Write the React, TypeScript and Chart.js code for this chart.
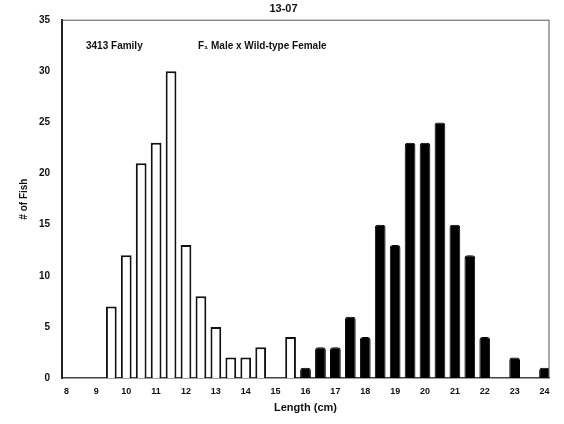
import React, { useEffect, useRef } from "react";
import { Chart, registerables } from "chart.js";

Chart.register(...registerables);

const chartTitle = "13-07";
const familyLabel = "3413 Family";
const crossLabel = "F\u2081 Male x Wild-type Female";
const xAxisTitle = "Length (cm)";
const yAxisTitle = "# of Fish";

const xTickValues = [8, 9, 10, 11, 12, 13, 14, 15, 16, 17, 18, 19, 20, 21, 22, 23, 24];
const yTickValues = [0, 5, 10, 15, 20, 25, 30, 35];

const openBins = [9.5, 10, 10.5, 11, 11.5, 12, 12.5, 13, 13.5, 14, 14.5, 15.5];
const openCounts = [7, 12, 21, 23, 30, 13, 8, 5, 2, 2, 3, 4];

const filledBins = [16, 16.5, 17, 17.5, 18, 18.5, 19, 19.5, 20, 20.5, 21, 21.5, 22, 23, 24];
const filledCounts = [1, 3, 3, 6, 4, 15, 13, 23, 23, 25, 15, 12, 4, 2, 1];

const FONT = "'Liberation Sans', Arial, sans-serif";

const framePlugin = {
  id: "frameAndNotes",
  afterDraw(chart: any) {
    const { ctx, chartArea } = chart;
    ctx.save();
    ctx.strokeStyle = "#555";
    ctx.lineWidth = 1;
    ctx.beginPath();
    ctx.moveTo(chartArea.left, chartArea.top);
    ctx.lineTo(chartArea.right, chartArea.top);
    ctx.lineTo(chartArea.right, chartArea.bottom);
    ctx.stroke();
    ctx.fillStyle = "#111";
    ctx.font = `bold 10px ${FONT}`;
    ctx.textBaseline = "middle";
    ctx.textAlign = "left";
    ctx.fillText(familyLabel, chartArea.left + 24, chartArea.top + 26);
    ctx.fillText(crossLabel, chartArea.left + 136, chartArea.top + 26);
    ctx.restore();
  },
};

export default function App() {
  const ref = useRef<HTMLCanvasElement | null>(null);

  useEffect(() => {
    if (!ref.current) return;
    const chart = new Chart(ref.current, {
      type: "bar",
      data: {
        datasets: [
          {
            label: "open",
            data: openBins.map((b, i) => ({ x: b, y: openCounts[i] })),
            backgroundColor: "#ffffff",
            borderColor: "#111111",
            borderWidth: 2,
          },
          {
            label: "filled",
            data: filledBins.map((b, i) => ({ x: b, y: filledCounts[i] })),
            backgroundColor: "#000000",
            borderColor: "#000000",
            borderWidth: 1,
            borderRadius: { topLeft: 3, topRight: 3 },
            borderSkipped: "bottom",
          },
        ],
      },
      plugins: [framePlugin],
      options: {
        animation: false,
        responsive: false,
        grouped: false,
        barPercentage: 0.72,
        categoryPercentage: 1,
        layout: { padding: { top: 0, right: 15, left: 18, bottom: 9 } },
        plugins: {
          legend: { display: false },
          tooltip: { enabled: false },
          title: {
            display: true,
            text: chartTitle,
            color: "#111",
            font: { family: FONT, size: 11, weight: "bold" },
            padding: { top: 2, bottom: 5 },
          },
        },
        scales: {
          x: {
            type: "linear",
            min: 7.85,
            max: 24.15,
            offset: false,
            grid: { display: false, drawTicks: false },
            border: { display: true, color: "#444", width: 1.5 },
            afterBuildTicks: (scale: any) => {
              scale.ticks = xTickValues.map((v) => ({ value: v }));
            },
            afterFit: (scale: any) => {
              scale.height = 37;
            },
            ticks: {
              color: "#111",
              padding: 8,
              maxRotation: 0,
              autoSkip: false,
              font: { family: FONT, size: 9, weight: "bold" },
            },
            title: {
              display: true,
              text: xAxisTitle,
              color: "#111",
              padding: { top: 0, bottom: 0 },
              font: { family: FONT, size: 11, weight: "bold" },
            },
          },
          y: {
            min: 0,
            max: 35,
            grid: { display: false, drawTicks: false },
            border: { display: true, color: "#222", width: 2 },
            afterBuildTicks: (scale: any) => {
              scale.ticks = yTickValues.map((v) => ({ value: v }));
            },
            afterFit: (scale: any) => {
              scale.width = 44;
            },
            ticks: {
              color: "#111",
              padding: 12,
              font: { family: FONT, size: 10, weight: "bold" },
            },
            title: {
              display: true,
              text: yAxisTitle,
              color: "#111",
              padding: { top: 0, bottom: 4 },
              font: { family: FONT, size: 10, weight: "bold" },
            },
          },
        },
      } as any,
    });
    return () => chart.destroy();
  }, []);

  return (
    <div style={{ position: "fixed", left: 0, top: 0, width: 564, height: 424, background: "#fff" }}>
      <canvas ref={ref} width={564} height={424} />
    </div>
  );
}
